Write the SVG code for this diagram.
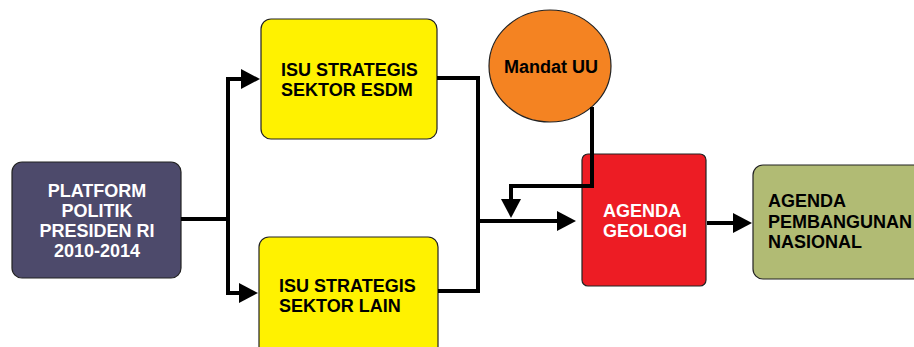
<svg xmlns="http://www.w3.org/2000/svg" width="914" height="347" viewBox="0 0 914 347">
<defs>
<style>
.box{stroke:#222;stroke-width:1.2}
.t{font-family:"Liberation Sans",Arial,sans-serif;font-weight:bold;font-size:18px}
.w{fill:#fff}
.k{fill:#000}
.ln{fill:none;stroke:#000;stroke-width:4;stroke-linejoin:miter;stroke-linecap:square}
</style>
<marker id="ah" markerUnits="userSpaceOnUse" markerWidth="20" markerHeight="22" refX="0" refY="10" orient="auto" overflow="visible">
<path d="M0,0 L19,10 L0,20 Z" fill="#000"/>
</marker>
</defs>
<rect width="914" height="347" fill="#fff"/>
<g id="platform">
<rect class="box" x="12" y="162" width="169" height="116" rx="10" fill="#4d4a6b"/>
<text class="t w" text-anchor="middle" x="97" y="197">PLATFORM</text>
<text class="t w" text-anchor="middle" x="97" y="217">POLITIK</text>
<text class="t w" text-anchor="middle" x="97" y="237">PRESIDEN RI</text>
<text class="t w" text-anchor="middle" x="97" y="257">2010-2014</text>
</g>
<g id="isu-esdm">
<rect class="box" x="261" y="19" width="176" height="120" rx="10" fill="#fff200"/>
<text class="t k" x="281" y="76">ISU STRATEGIS</text>
<text class="t k" x="281" y="96">SEKTOR ESDM</text>
</g>
<g id="isu-lain">
<rect class="box" x="259" y="237" width="179" height="120" rx="10" fill="#fff200"/>
<text class="t k" x="279" y="292">ISU STRATEGIS</text>
<text class="t k" x="279" y="312">SEKTOR LAIN</text>
</g>
<g id="mandat">
<ellipse class="box" cx="550" cy="66" rx="61" ry="56" fill="#f48322"/>
<text class="t k" text-anchor="middle" x="551" y="73">Mandat UU</text>
</g>
<g id="geologi">
<rect class="box" x="582" y="154" width="124" height="132" rx="6" fill="#ed1c24"/>
<text class="t w" x="603" y="217">AGENDA</text>
<text class="t w" x="603" y="237">GEOLOGI</text>
</g>
<g id="nasional">
<rect class="box" x="753" y="165" width="180" height="114" rx="10" fill="#b1bb74"/>
<text class="t k" x="768" y="207">AGENDA</text>
<text class="t k" x="768" y="227.5">PEMBANGUNAN</text>
<text class="t k" x="768" y="248">NASIONAL</text>
</g>
<g id="connectors">
<path class="ln" d="M183,219 H228"/>
<path class="ln" d="M228,79 V293"/>
<path class="ln" d="M228,79 H241" marker-end="url(#ah)"/>
<path class="ln" d="M228,293 H239" marker-end="url(#ah)"/>
<path class="ln" d="M439,78 H478 V291 H440"/>
<path class="ln" d="M478,221 H557" marker-end="url(#ah)"/>
<path class="ln" d="M592,109 V186 H511 V199" marker-end="url(#ah)"/>
<path class="ln" d="M709,223 H733" marker-end="url(#ah)"/>
</g>
</svg>
